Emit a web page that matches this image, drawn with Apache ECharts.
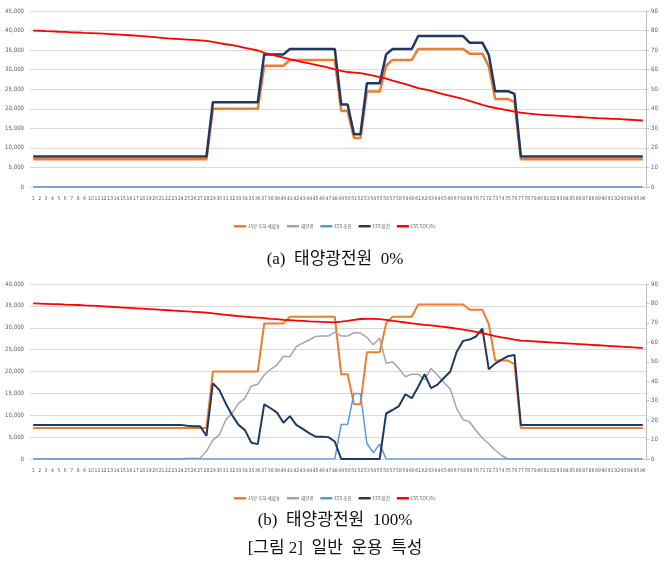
<!DOCTYPE html>
<html>
<head>
<meta charset="utf-8">
<script src="https://cdn.jsdelivr.net/npm/echarts@6/dist/echarts.min.js"></script>
<style>
  html, body { margin: 0; padding: 0; background: #fff; }
  #chart { width: 670px; height: 561px; }
</style>
</head>
<body>
<div id="chart"></div>
<script>
// 96 time slots of 15 minutes
const slots = Array.from({ length: 96 }, (_, i) => String(i + 1));

const seriesNames = ["15분 부하 예상표", "태양광", "ESS 충전", "ESS 방전", "ESS SOC(%)"];

// load forecast, same in both cases
const loadForecast = [
  7100, 7100, 7100, 7100, 7100, 7100, 7100, 7100, 7100, 7100, 7100, 7100, 7100, 7100, 7100, 7100,
  7100, 7100, 7100, 7100, 7100, 7100, 7100, 7100, 7100, 7100, 7100, 7100,
  20000, 20000, 20000, 20000, 20000, 20000, 20000, 20000,
  31000, 31000, 31000, 31000,
  32500, 32500, 32500, 32500, 32500, 32500, 32500, 32500,
  19400, 19400, 12500, 12500, 24400, 24400, 24400, 31000,
  32500, 32500, 32500, 32500,
  35300, 35300, 35300, 35300, 35300, 35300, 35300, 35300,
  34100, 34100, 34100, 30800, 22500, 22500, 22500, 21700,
  7100, 7100, 7100, 7100, 7100, 7100, 7100, 7100, 7100, 7100, 7100, 7100, 7100, 7100, 7100, 7100,
  7100, 7100, 7100, 7100
];

// (a) solar 0%
const solarA = new Array(96).fill(0);
const chargeA = new Array(96).fill(0);
const dischargeA = [
  7800, 7800, 7800, 7800, 7800, 7800, 7800, 7800, 7800, 7800, 7800, 7800, 7800, 7800, 7800, 7800,
  7800, 7800, 7800, 7800, 7800, 7800, 7800, 7800, 7800, 7800, 7800, 7800,
  21700, 21700, 21700, 21700, 21700, 21700, 21700, 21700,
  33900, 33900, 33900, 33900,
  35300, 35300, 35300, 35300, 35300, 35300, 35300, 35300,
  21100, 21100, 13500, 13500, 26500, 26500, 26500, 33900,
  35300, 35300, 35300, 35300,
  38600, 38600, 38600, 38600, 38600, 38600, 38600, 38600,
  36900, 36900, 36900, 33800, 24500, 24500, 24500, 23800,
  7800, 7800, 7800, 7800, 7800, 7800, 7800, 7800, 7800, 7800, 7800, 7800, 7800, 7800, 7800, 7800,
  7800, 7800, 7800, 7800
];
const socA = [
  80.0, 79.9, 79.7, 79.6, 79.4, 79.3, 79.1, 79.0, 78.8, 78.7, 78.6, 78.4, 78.2, 78.0, 77.8, 77.6,
  77.4, 77.2, 76.9, 76.6, 76.3, 76.0, 75.8, 75.6, 75.4, 75.2, 75.0, 74.7, 74.2, 73.6, 73.0, 72.5,
  71.9, 71.2, 70.5, 69.8, 68.6, 67.8, 66.9, 66.2, 65.3, 64.6, 63.9, 63.2, 62.5, 61.8, 61.0, 60.2,
  59.4, 58.8, 58.5, 58.2, 57.6, 56.9, 56.2, 55.4, 54.4, 53.5, 52.6, 51.6, 50.6, 49.9, 49.1, 48.2,
  47.4, 46.6, 45.8, 45.0, 44.0, 43.0, 42.0, 41.1, 40.4, 39.8, 39.2, 38.6, 38.0, 37.6, 37.3, 37.0,
  36.8, 36.6, 36.4, 36.2, 36.0, 35.8, 35.6, 35.4, 35.2, 35.1, 34.9, 34.8, 34.6, 34.4, 34.2, 34.0
];

// (b) solar 100%
const solarB = [
  0, 0, 0, 0, 0, 0, 0, 0, 0, 0, 0, 0, 0, 0, 0, 0,
  0, 0, 0, 0, 0, 0, 0, 0, 150, 150, 100, 1800, 4300, 5500, 8900, 10500,
  12700, 13900, 16700, 17100, 19200, 20500, 21500, 23500, 23400, 25700, 26500, 27200, 28000, 28100, 28100, 29000,
  28100, 28100, 28900, 28800, 27800, 26100, 27600, 21900, 22200, 20700, 18800, 19400, 19400, 18100, 20700, 19200,
  17500, 16000, 11500, 9000, 8500, 6500, 4800, 3500, 2000, 800, 0, 0, 0, 0, 0, 0,
  0, 0, 0, 0, 0, 0, 0, 0, 0, 0, 0, 0, 0, 0, 0, 0
];
const chargeB = [
  0, 0, 0, 0, 0, 0, 0, 0, 0, 0, 0, 0, 0, 0, 0, 0,
  0, 0, 0, 0, 0, 0, 0, 0, 0, 0, 0, 0, 0, 0, 0, 0,
  0, 0, 0, 0, 0, 0, 0, 0, 0, 0, 0, 0, 0, 0, 0, 0,
  7900, 7900, 15000, 14900, 3600, 1400, 3400, 0, 0, 0, 0, 0, 0, 0, 0, 0,
  0, 0, 0, 0, 0, 0, 0, 0, 0, 0, 0, 0, 0, 0, 0, 0,
  0, 0, 0, 0, 0, 0, 0, 0, 0, 0, 0, 0, 0, 0, 0, 0
];
const dischargeB = [
  7800, 7800, 7800, 7800, 7800, 7800, 7800, 7800, 7800, 7800, 7800, 7800, 7800, 7800, 7800, 7800,
  7800, 7800, 7800, 7800, 7800, 7800, 7800, 7800, 7600, 7500, 7500, 5300, 17300, 15800, 12700, 10000,
  7800, 6600, 3700, 3400, 12500, 11600, 10600, 8300, 9800, 7800, 6900, 5900, 5100, 5100, 5000, 4000,
  0, 0, 0, 0, 0, 0, 0, 10400, 11200, 12100, 14800, 13900, 16500, 19400, 16200, 17000,
  18500, 20000, 24500, 27000, 27300, 28000, 29800, 20500, 21800, 22700, 23500, 23800, 7800, 7800, 7800, 7800,
  7800, 7800, 7800, 7800, 7800, 7800, 7800, 7800, 7800, 7800, 7800, 7800, 7800, 7800, 7800, 7800
];
const socB = [
  80.0, 79.9, 79.8, 79.7, 79.6, 79.4, 79.3, 79.2, 79.0, 78.9, 78.7, 78.5, 78.3, 78.1, 77.9, 77.7,
  77.5, 77.3, 77.1, 76.9, 76.7, 76.5, 76.3, 76.1, 75.9, 75.7, 75.5, 75.3, 74.9, 74.5, 74.1, 73.8,
  73.5, 73.2, 72.9, 72.7, 72.4, 72.1, 71.9, 71.6, 71.4, 71.2, 71.0, 70.8, 70.7, 70.5, 70.4, 70.3,
  70.6, 71.0, 71.6, 72.0, 72.1, 72.1, 71.9, 71.5, 71.0, 70.6, 70.2, 69.8, 69.4, 69.0, 68.7, 68.3,
  67.9, 67.5, 67.0, 66.5, 66.0, 65.4, 64.7, 64.0, 63.2, 62.6, 62.0, 61.4, 60.9, 60.7, 60.5, 60.3,
  60.1, 59.9, 59.7, 59.5, 59.3, 59.1, 58.9, 58.7, 58.5, 58.3, 58.1, 57.9, 57.7, 57.5, 57.3, 57.1
];

const captions = ["(a)  태양광전원  0%", "(b)  태양광전원  100%", "[그림 2]  일반  운용  특성"];

const colors = {
  load: "#ED7D31",
  solar: "#A5A5A5",
  charge: "#5B9BD5",
  discharge: "#1F3864",
  soc: "#FF0000",
  grid: "#D9D9D9",
  text: "#595959",
};

const tickFont = "'Liberation Sans Narrow', 'DejaVu Sans Condensed', 'Liberation Sans', sans-serif";
const serif = "'Liberation Serif', 'Noto Sans CJK KR', serif";

function catAxis(gridIndex) {
  return {
    type: "category",
    gridIndex,
    data: slots,
    boundaryGap: true,
    axisLine: { show: true, lineStyle: { color: colors.grid } },
    axisTick: { show: false },
    axisLabel: { interval: 0, fontSize: 5, color: colors.text, fontFamily: tickFont, margin: 9 },
  };
}

function leftAxis(gridIndex, max) {
  return {
    type: "value",
    gridIndex,
    min: 0,
    max,
    interval: 5000,
    axisLine: { show: false },
    axisTick: { show: false },
    splitLine: { lineStyle: { color: colors.grid, width: 1 } },
    axisLabel: {
      fontSize: 6,
      color: colors.text,
      fontFamily: tickFont,
      margin: 6,
      formatter: (v) => v.toLocaleString("en-US"),
    },
  };
}

function rightAxis(gridIndex) {
  return {
    type: "value",
    gridIndex,
    position: "right",
    min: 0,
    max: 90,
    interval: 10,
    axisLine: { show: true, lineStyle: { color: "#BFBFBF" } },
    axisTick: { show: true, length: 3, lineStyle: { color: "#BFBFBF" } },
    splitLine: { show: false },
    axisLabel: { fontSize: 6, color: colors.text, fontFamily: tickFont, margin: 5 },
  };
}

function line(name, data, color, width, xi, yi, z) {
  return {
    name,
    type: "line",
    xAxisIndex: xi,
    yAxisIndex: yi,
    data,
    showSymbol: false,
    symbol: "none",
    lineStyle: { color, width },
    itemStyle: { color },
    z,
    animation: false,
  };
}

function legend(top) {
  return {
    top,
    left: "center",
    data: seriesNames,
    icon: "rect",
    itemWidth: 12,
    itemHeight: 2.5,
    itemGap: 7,
    textStyle: { fontSize: 4.5, color: colors.text, fontFamily: "'Noto Sans CJK KR', sans-serif", padding: [0, 0, 0, -3] },
  };
}

const chart = echarts.init(document.getElementById("chart"));
chart.setOption({
  animation: false,
  backgroundColor: "#fff",
  title: [
    { text: captions[0], left: "center", top: 246, textStyle: { fontSize: 17, fontWeight: "normal", color: "#111", fontFamily: serif } },
    { text: captions[1], left: "center", top: 507, textStyle: { fontSize: 17, fontWeight: "normal", color: "#111", fontFamily: serif } },
    { text: captions[2], left: "center", top: 535, textStyle: { fontSize: 17, fontWeight: "normal", color: "#111", fontFamily: serif } },
  ],
  legend: [legend(219), legend(491)],
  grid: [
    { left: 30, right: 24, top: 11, height: 176 },
    { left: 30, right: 24, top: 284, height: 175 },
  ],
  xAxis: [catAxis(0), catAxis(1)],
  yAxis: [leftAxis(0, 45000), rightAxis(0), leftAxis(1, 40000), rightAxis(1)],
  series: [
    line(seriesNames[0], loadForecast, colors.load, 2.5, 0, 0, 2),
    line(seriesNames[1], solarA, colors.solar, 1.5, 0, 0, 2),
    line(seriesNames[2], chargeA, colors.charge, 1.5, 0, 0, 3),
    line(seriesNames[3], dischargeA, colors.discharge, 2.5, 0, 0, 4),
    line(seriesNames[4], socA, colors.soc, 1.8, 0, 1, 5),
    line(seriesNames[0], loadForecast, colors.load, 2, 1, 2, 2),
    line(seriesNames[1], solarB, colors.solar, 1.5, 1, 2, 2),
    line(seriesNames[2], chargeB, colors.charge, 1.5, 1, 2, 3),
    line(seriesNames[3], dischargeB, colors.discharge, 2, 1, 2, 4),
    line(seriesNames[4], socB, colors.soc, 1.8, 1, 3, 5),
  ],
});
</script>
</body>
</html>
